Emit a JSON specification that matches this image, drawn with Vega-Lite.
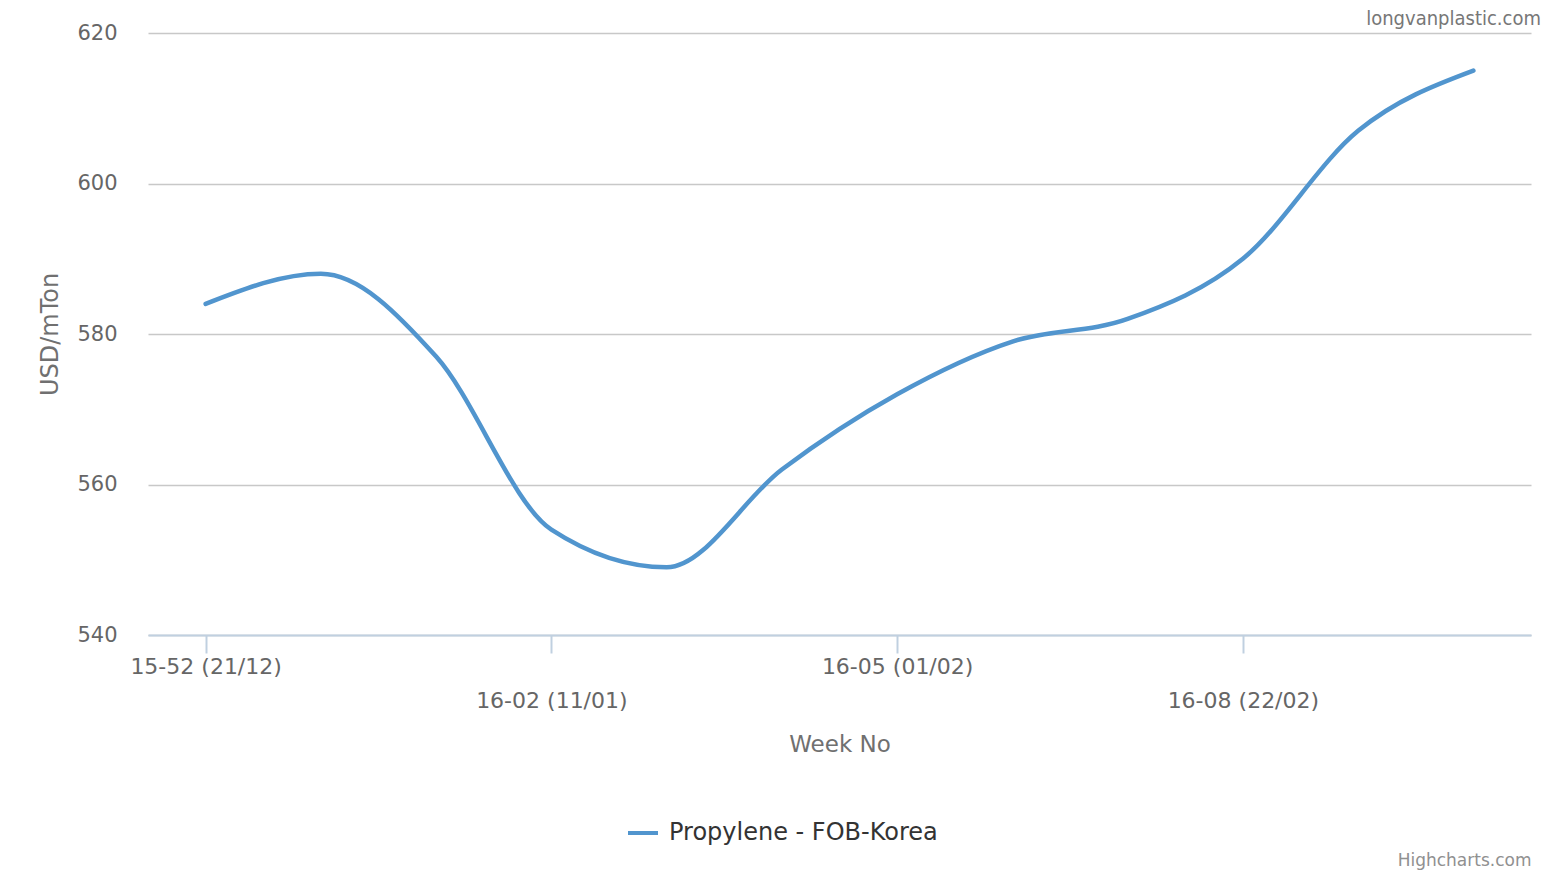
{
  "$schema": "https://vega.github.io/schema/vega-lite/v6.json",
  "width": 1383,
  "height": 602,
  "autosize": "none",
  "padding": {"left": 148, "top": 33, "right": 15, "bottom": 241},
  "background": "#ffffff",
  "title": {
    "text": "longvanplastic.com",
    "orient": "top",
    "anchor": "end",
    "frame": "group",
    "dx": 10,
    "offset": -27,
    "baseline": "bottom",
    "font": "DejaVu Sans Condensed",
    "fontSize": 20,
    "fontWeight": "normal",
    "color": "#777777"
  },
  "config": {
    "view": {"stroke": null},
    "font": "DejaVu Sans"
  },
  "data": {
    "values": [
      {"week": "15-52 (21/12)", "price": 584, "series": "Propylene - FOB-Korea"},
      {"week": "15-53 (28/12)", "price": 588, "series": "Propylene - FOB-Korea"},
      {"week": "16-01 (04/01)", "price": 577, "series": "Propylene - FOB-Korea"},
      {"week": "16-02 (11/01)", "price": 554, "series": "Propylene - FOB-Korea"},
      {"week": "16-03 (18/01)", "price": 549, "series": "Propylene - FOB-Korea"},
      {"week": "16-04 (25/01)", "price": 562, "series": "Propylene - FOB-Korea"},
      {"week": "16-05 (01/02)", "price": 572, "series": "Propylene - FOB-Korea"},
      {"week": "16-06 (08/02)", "price": 579, "series": "Propylene - FOB-Korea"},
      {"week": "16-07 (15/02)", "price": 582, "series": "Propylene - FOB-Korea"},
      {"week": "16-08 (22/02)", "price": 590, "series": "Propylene - FOB-Korea"},
      {"week": "16-09 (29/02)", "price": 607, "series": "Propylene - FOB-Korea"},
      {"week": "16-10 (07/03)", "price": 615, "series": "Propylene - FOB-Korea"}
    ]
  },
  "resolve": {"axis": {"x": "independent"}},
  "layer": [
    {
      "mark": {"type": "line", "interpolate": "monotone", "strokeWidth": 4.5, "strokeCap": "round", "strokeJoin": "round"},
      "encoding": {
        "x": {
          "field": "week",
          "type": "ordinal",
          "sort": null,
          "scale": {"type": "point", "padding": 0.5},
          "axis": {
            "title": "Week No",
            "titleFont": "DejaVu Sans",
            "titleFontSize": 23,
            "titleFontWeight": "normal",
            "titleColor": "#707070",
            "titlePadding": 22,
            "values": ["15-52 (21/12)", "16-02 (11/01)", "16-05 (01/02)", "16-08 (22/02)"],
            "labelExpr": "indexof(['16-02 (11/01)', '16-08 (22/02)'], datum.value) >= 0 ? ['', datum.label] : datum.label",
            "labelAngle": 0,
            "labelBaseline": "top",
            "labelLineHeight": 34,
            "labelFont": "DejaVu Sans",
            "labelFontSize": 22,
            "labelColor": "#666666",
            "labelPadding": 3,
            "labelOverlap": false,
            "tickSize": 18,
            "tickColor": "#C0D0E0",
            "tickWidth": 2,
            "domainColor": "#C0D0E0",
            "domainWidth": 2,
            "grid": false
          }
        },
        "y": {
          "field": "price",
          "type": "quantitative",
          "scale": {"domain": [540, 620], "nice": false, "zero": false},
          "axis": {
            "title": "USD/mTon",
            "titleFont": "DejaVu Sans",
            "titleFontSize": 24,
            "titleFontWeight": "normal",
            "titleColor": "#707070",
            "titlePadding": 14,
            "values": [540, 560, 580, 600, 620],
            "labelFont": "DejaVu Sans",
            "labelFontSize": 21,
            "labelColor": "#666666",
            "labelPadding": 31,
            "ticks": false,
            "domain": false,
            "grid": true,
            "gridColor": "#C8C8C8",
            "gridWidth": 1.5
          }
        },
        "color": {
          "field": "series",
          "type": "nominal",
          "scale": {"range": ["#5195CE"]},
          "legend": {
            "orient": "none",
            "legendX": 478,
            "legendY": 783,
            "title": null,
            "padding": 0,
            "symbolType": "stroke",
            "symbolStrokeWidth": 4,
            "symbolSize": 900,
            "labelFont": "DejaVu Sans",
            "labelFontSize": 24,
            "labelColor": "#333333",
            "labelOffset": 9,
            "labelLimit": 500
          }
        }
      }
    },
    {
      "mark": {"type": "line", "interpolate": "monotone", "strokeOpacity": 0},
      "encoding": {
        "x": {
          "field": "week",
          "type": "ordinal",
          "sort": null,
          "axis": {
            "orient": "bottom",
            "title": "Highcharts.com",
            "titleAnchor": "end",
            "titleAlign": "right",
            "titleBaseline": "middle",
            "titleY": 225,
            "titleFont": "DejaVu Sans",
            "titleFontSize": 17,
            "titleFontWeight": "normal",
            "titleColor": "#909090",
            "labels": false,
            "ticks": false,
            "domain": false,
            "grid": false
          }
        },
        "y": {"field": "price", "type": "quantitative"}
      }
    }
  ]
}
